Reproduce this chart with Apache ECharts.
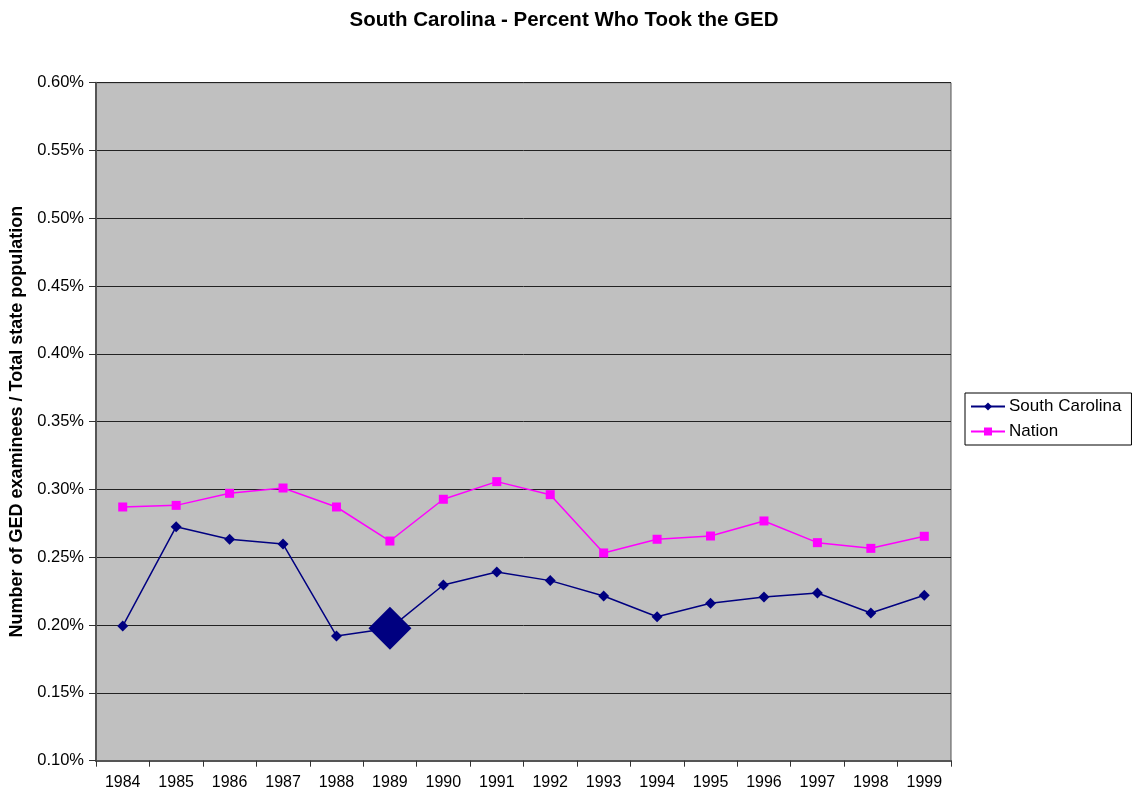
<!DOCTYPE html>
<html>
<head>
<meta charset="utf-8">
<script src="https://cdn.jsdelivr.net/npm/echarts@6/dist/echarts.min.js"></script>
<style>
  html, body { margin: 0; padding: 0; background: #ffffff; }
  #chart { width: 1133px; height: 798px; }
</style>
</head>
<body>
<div id="chart"></div>
<script>
// Years on the category axis
const years = ['1984','1985','1986','1987','1988','1989','1990','1991','1992','1993','1994','1995','1996','1997','1998','1999'];
// GED examinees as a percent of total population
const southCarolina = [0.1993, 0.2726, 0.2633, 0.2598, 0.1920, 0.1976, 0.2296, 0.2392, 0.2328, 0.2215, 0.2062, 0.2161, 0.2207, 0.2237, 0.2089, 0.2220];
const nation = [0.2871, 0.2883, 0.2972, 0.3011, 0.2871, 0.2620, 0.2928, 0.3058, 0.2962, 0.2532, 0.2633, 0.2657, 0.2768, 0.2608, 0.2566, 0.2655];
// The year whose South Carolina point is drawn enlarged
const highlightYear = '1989';

const font = 'Liberation Sans, Arial, sans-serif';

const scData = southCarolina.map((v, i) =>
  years[i] === highlightYear ? { value: v, symbolSize: 43 } : v
);

const chart = echarts.init(document.getElementById('chart'), null, { renderer: 'canvas' });
chart.setOption({
  backgroundColor: '#ffffff',
  animation: false,
  title: {
    text: 'South Carolina - Percent Who Took the GED',
    left: 559,
    textAlign: 'center',
    top: 5,
    textStyle: { fontFamily: font, fontSize: 20.5, fontWeight: 'bold', color: '#000' }
  },
  legend: {
    orient: 'vertical',
    left: 965,
    top: 393,
    width: 167,
    itemWidth: 34,
    itemHeight: 10,
    itemGap: 8,
    padding: [5, 10, 5, 5],
    backgroundColor: '#ffffff',
    borderColor: '#000000',
    borderWidth: 1,
    borderRadius: 0,
    textStyle: { fontFamily: font, fontSize: 17, color: '#000', padding: [0, 0, 0, -1] },
    data: ['South Carolina', 'Nation']
  },
  grid: {
    left: 96,
    right: 182,
    top: 82.7,
    bottom: 37.3,
    outerBoundsMode: 'none',
    containLabel: false,
    show: true,
    backgroundColor: '#c0c0c0',
    borderColor: '#555555',
    borderWidth: 1
  },
  xAxis: {
    type: 'category',
    data: years,
    boundaryGap: true,
    axisLine: { show: true, lineStyle: { color: '#555555', width: 2 } },
    axisTick: { show: true, alignWithLabel: false, length: 6, lineStyle: { color: '#333' } },
    axisLabel: { fontFamily: font, fontSize: 16, color: '#000', margin: 14 },
    splitLine: { show: false }
  },
  yAxis: {
    type: 'value',
    min: 0.10,
    max: 0.60,
    interval: 0.05,
    name: 'Number of GED examinees / Total state population',
    nameLocation: 'middle',
    nameGap: 69,
    nameTextStyle: { fontFamily: font, fontSize: 18, fontWeight: 'bold', color: '#000' },
    axisLine: { show: true, lineStyle: { color: '#555555', width: 2 } },
    axisTick: { show: true, length: 7, lineStyle: { color: '#333' } },
    axisLabel: {
      fontFamily: font, fontSize: 16.5, color: '#000', margin: 12,
      formatter: v => v.toFixed(2) + '%'
    },
    splitLine: { show: true, lineStyle: { color: '#222222', width: 1 } }
  },
  series: [
    {
      name: 'South Carolina',
      type: 'line',
      data: scData,
      symbol: 'diamond',
      symbolSize: 11,
      itemStyle: { color: '#000080' },
      lineStyle: { color: '#000080', width: 1.5 },
      z: 3
    },
    {
      name: 'Nation',
      type: 'line',
      data: nation,
      symbol: 'rect',
      symbolSize: 9,
      itemStyle: { color: '#ff00ff' },
      lineStyle: { color: '#ff00ff', width: 1.5 },
      z: 2
    }
  ]
});
</script>
</body>
</html>
